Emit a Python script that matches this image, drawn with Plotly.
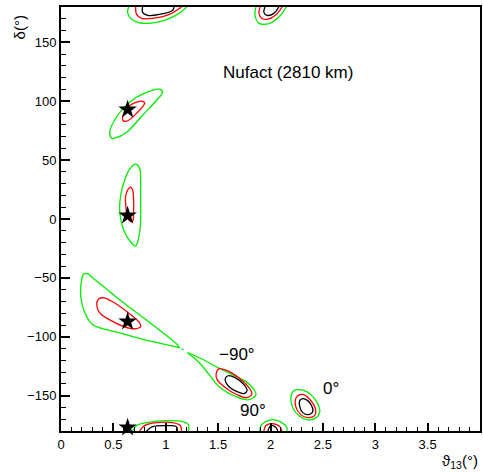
import plotly.graph_objects as go

# ---- data (theta13 in degrees, delta in degrees) ----
star_x = [0.636, 0.636, 0.636, 0.636]
star_y = [93, 3, -87, -177]

# green (outer) contours
green_s93_x = [0.465, 0.541, 0.655, 0.798, 0.940, 0.969, 0.912, 0.779, 0.627, 0.513, 0.484, 0.465]
green_s93_y = [73.7, 88.1, 99.2, 106.8, 110.2, 107.6, 100.8, 88.1, 73.7, 68.6, 68.6, 73.7]
green_s3_x = [0.712, 0.750, 0.760, 0.760, 0.760, 0.741, 0.712, 0.665, 0.598, 0.560, 0.570, 0.608, 0.655, 0.712]
green_s3_y = [46.6, 43.2, 33.1, 16.1, -2.5, -16.1, -22.9, -19.5, -9.3, 7.6, 20.3, 33.1, 42.4, 46.6]
green_sm87_x = [0.218, 0.190, 0.190, 0.228, 0.304, 0.560, 0.874, 1.102, 1.130, 1.102, 0.874, 0.560, 0.304, 0.256, 0.218]
green_sm87_y = [-46.6, -55.9, -66.9, -79.7, -89.8, -96.6, -104.2, -108.5, -109.3, -105.9, -89.8, -68.6, -50.0, -46.6, -46.6]
green_m90_x = [1.206, 1.320, 1.538, 1.766, 1.842, 1.861, 1.795, 1.671, 1.510, 1.415, 1.320, 1.244, 1.206]
green_m90_y = [-113.6, -117.8, -128.0, -138.1, -144.9, -149.2, -153.4, -150.8, -142.4, -132.2, -122.0, -116.1, -113.6]
green_0_x = [2.270, 2.346, 2.412, 2.460, 2.469, 2.422, 2.346, 2.270, 2.213, 2.194, 2.222, 2.270]
green_0_y = [-144.9, -146.6, -151.7, -158.5, -164.4, -169.5, -170.3, -166.9, -160.2, -151.7, -145.8, -144.9]
green_top1_x = [0.646, 0.636, 0.665, 0.731, 0.845, 0.988, 1.111, 1.200]
green_top1_y = [180, 175.4, 170.3, 167.0, 166.1, 168.6, 173.7, 180]
green_top2_x = [1.861, 1.852, 1.890, 1.937, 2.013, 2.099, 2.150]
green_top2_y = [180, 173.2, 166.1, 165.3, 167.0, 173.2, 180]
green_bot1_x = [0.684, 0.722, 0.817, 1.007, 1.159, 1.216, 1.216]
green_bot1_y = [-180, -175.4, -172.9, -171.2, -172.0, -174.6, -180]
green_bot2_x = [1.899, 1.909, 1.956, 2.023, 2.108, 2.156, 2.156]
green_bot2_y = [-180, -175.4, -172.0, -170.3, -172.9, -177.1, -180]

# red (middle) contours
red_s93_x = [0.589, 0.636, 0.769, 0.798, 0.722, 0.627, 0.589]
red_s93_y = [83.9, 94.9, 100.0, 98.3, 89.8, 83.1, 83.9]
red_s3_x = [0.617, 0.636, 0.665, 0.684, 0.693, 0.693, 0.684, 0.655, 0.627, 0.617, 0.617]
red_s3_y = [19.5, 24.6, 27.1, 24.6, 16.1, 5.9, -1.7, -1.7, 5.9, 12.7, 19.5]
red_sm87_x = [0.342, 0.361, 0.408, 0.494, 0.655, 0.750, 0.760, 0.703, 0.608, 0.465, 0.370, 0.342]
red_sm87_y = [-71.2, -67.8, -66.9, -70.3, -80.5, -88.1, -91.5, -93.2, -91.5, -85.6, -79.7, -71.2]
red_m90_x = [1.481, 1.510, 1.586, 1.719, 1.795, 1.823, 1.776, 1.681, 1.557, 1.491, 1.481]
red_m90_y = [-131.4, -127.1, -128.8, -136.4, -143.2, -148.3, -151.7, -149.2, -142.4, -136.4, -131.4]
red_0_x = [2.279, 2.336, 2.393, 2.431, 2.422, 2.355, 2.289, 2.241, 2.241, 2.279]
red_0_y = [-149.2, -150.0, -155.1, -161.9, -166.9, -168.6, -166.1, -159.3, -152.5, -149.2]
red_top1_x = [0.712, 0.722, 0.769, 0.874, 1.035, 1.150]
red_top1_y = [180, 173.7, 170.3, 170.3, 173.7, 180]
red_top2_x = [1.900, 1.890, 1.918, 1.966, 2.051, 2.110]
red_top2_y = [180, 174.6, 170.3, 169.5, 173.2, 180]
red_bot1_x = [0.750, 0.798, 0.912, 1.064, 1.140, 1.149]
red_bot1_y = [-180, -175.4, -172.9, -172.9, -175.4, -180]
red_bot2_x = [1.937, 1.956, 2.013, 2.089, 2.108]
red_bot2_y = [-180, -175.4, -173.7, -176.3, -180]

# black (inner) contours
black_m90_x = [1.567, 1.595, 1.662, 1.747, 1.776, 1.747, 1.681, 1.605, 1.567]
black_m90_y = [-136.4, -133.1, -134.7, -140.7, -145.8, -148.3, -146.6, -142.4, -136.4]
black_0_x = [2.308, 2.355, 2.393, 2.403, 2.365, 2.308, 2.279, 2.279, 2.308]
black_0_y = [-152.5, -154.2, -158.5, -163.6, -166.1, -164.4, -159.3, -154.2, -152.5]
black_top1_x = [0.779, 0.779, 0.826, 0.940, 1.064, 1.080]
black_top1_y = [180, 175.4, 172.9, 173.7, 177.1, 180]
black_top2_x = [1.947, 1.937, 1.966, 2.032, 2.080]
black_top2_y = [180, 175.4, 172.9, 174.6, 180]
black_bot1_x = [0.817, 0.874, 1.007, 1.102, 1.111]
black_bot1_y = [-180, -176.3, -175.4, -176.3, -180]
black_bot2_x = [1.975, 2.004, 2.051, 2.070]
black_bot2_y = [-180, -175.4, -177.1, -180]

neck_x = [1.150, 1.170]
neck_y = [-110.2, -111.2]

x_ticks = [0, 0.5, 1, 1.5, 2, 2.5, 3, 3.5, 4]
x_ticklabels = ["0", "0.5", "1", "1.5", "2", "2.5", "3", "3.5", "4"]
y_ticks = [-150, -100, -50, 0, 50, 100, 150]

labels_text = ["Nufact (2810 km)", "\u221290\u00b0", "0\u00b0", "90\u00b0"]
labels_x = [2.17, 1.68, 2.58, 1.83]
labels_y = [124, -115, -144, -163]

GREEN = "#00ee00"
RED = "#ff0000"
BLACK = "#000000"
FONT = "Liberation Sans"

curves = [
    (green_s93_x, green_s93_y, GREEN), (green_s3_x, green_s3_y, GREEN),
    (green_sm87_x, green_sm87_y, GREEN), (green_m90_x, green_m90_y, GREEN),
    (green_0_x, green_0_y, GREEN), (green_top1_x, green_top1_y, GREEN),
    (green_top2_x, green_top2_y, GREEN), (green_bot1_x, green_bot1_y, GREEN),
    (green_bot2_x, green_bot2_y, GREEN), (neck_x, neck_y, GREEN),
    (red_s93_x, red_s93_y, RED), (red_s3_x, red_s3_y, RED),
    (red_sm87_x, red_sm87_y, RED), (red_m90_x, red_m90_y, RED),
    (red_0_x, red_0_y, RED), (red_top1_x, red_top1_y, RED),
    (red_top2_x, red_top2_y, RED), (red_bot1_x, red_bot1_y, RED),
    (red_bot2_x, red_bot2_y, RED),
    (black_m90_x, black_m90_y, BLACK), (black_0_x, black_0_y, BLACK),
    (black_top1_x, black_top1_y, BLACK), (black_top2_x, black_top2_y, BLACK),
    (black_bot1_x, black_bot1_y, BLACK), (black_bot2_x, black_bot2_y, BLACK),
]

fig = go.Figure()
for cx, cy, col in curves:
    fig.add_trace(go.Scatter(x=cx, y=cy, mode="lines",
                             line=dict(color=col, width=1.3, shape="spline", smoothing=1.0),
                             hoverinfo="skip", showlegend=False))

fig.add_trace(go.Scatter(x=star_x, y=star_y, mode="markers",
                         marker=dict(symbol="star", size=14, color="black"),
                         showlegend=False, cliponaxis=False))

for t, lx, ly in zip(labels_text, labels_x, labels_y):
    fig.add_annotation(x=lx, y=ly, text=t, showarrow=False,
                       font=dict(size=17, color="black", family=FONT))

fig.add_annotation(xref="paper", yref="paper", x=-0.1, y=0.985, text="\u03b4(\u00b0)",
                   textangle=-90, showarrow=False, xanchor="center", yanchor="top",
                   font=dict(size=15, color="black", family=FONT))
fig.add_annotation(xref="paper", yref="paper", x=1.0, y=-0.045,
                   text="\u03d1<sub>13</sub>(\u00b0)", showarrow=False,
                   xanchor="right", yanchor="top",
                   font=dict(size=15, color="black", family=FONT))

axis_common = dict(showgrid=False, zeroline=False, showline=True, linecolor="black",
                   linewidth=2, mirror=True, ticks="inside", tickcolor="black",
                   tickwidth=2, tickfont=dict(size=13, color="black", family=FONT))

fig.update_xaxes(range=[0, 4], tickvals=x_ticks, ticktext=x_ticklabels, ticklen=8,
                 minor=dict(dtick=0.1, tick0=0, ticks="inside", ticklen=4, tickwidth=1,
                            tickcolor="black"),
                 **axis_common)
fig.update_yaxes(range=[-180, 180], tickvals=y_ticks, ticklen=9,
                 minor=dict(dtick=10, tick0=0, ticks="inside", ticklen=5, tickwidth=1,
                            tickcolor="black"),
                 **axis_common)

fig.update_layout(width=483, height=472, margin=dict(l=61, r=1, t=7, b=41),
                  plot_bgcolor="white", paper_bgcolor="white",
                  font=dict(family=FONT, color="black"))

fig.write_html("out.html")
